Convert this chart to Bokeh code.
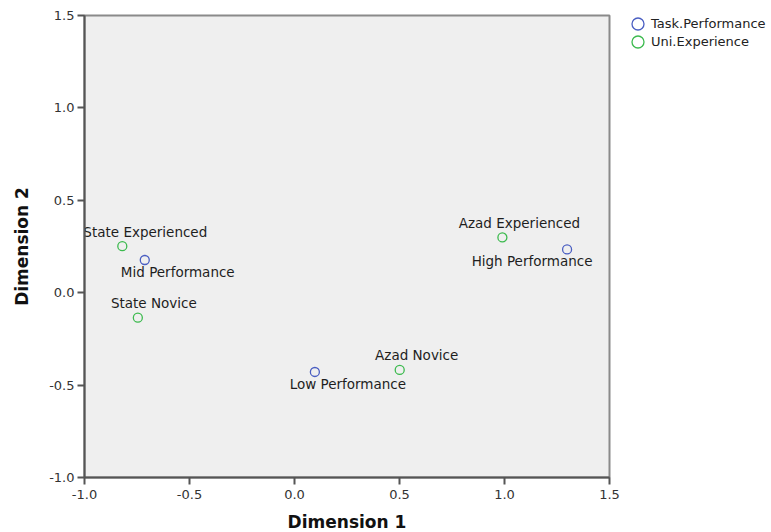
from bokeh.plotting import figure
from bokeh.models import (ColumnDataSource, Legend, LegendItem, FixedTicker,
                          PrintfTickFormatter, Range1d)
from bokeh.embed import file_html
from bokeh.resources import INLINE
from bokeh.core.properties import value

# ---- data ----
series_names = ["Task.Performance", "Uni.Experience"]
task_labels = ["Low Performance", "Mid Performance", "High Performance"]
task_dim1 = [0.097, -0.713, 1.298]
task_dim2 = [-0.429, 0.177, 0.234]
uni_labels = ["State Novice", "State Experienced", "Azad Novice", "Azad Experienced"]
uni_dim1 = [-0.746, -0.820, 0.501, 0.990]
uni_dim2 = [-0.135, 0.252, -0.418, 0.299]
axis_ticks = [-1.0, -0.5, 0.0, 0.5, 1.0, 1.5]

# ---- styles (label offsets in px) ----
task_dx = [33, 33, -35]
task_dy = [12, 12, 12]
uni_dx = [16, 23, 17, 17]
uni_dy = [-15, -14, -15, -14]
BLUE = "#4a5ec2"
GREEN = "#3cba4e"
FONT = "DejaVu Sans"

p = figure(frame_width=525, frame_height=462, title=None,
           x_range=Range1d(-1.0, 1.5), y_range=Range1d(-1.0, 1.5),
           output_backend="svg", toolbar_location=None,
           min_border_left=84, min_border_right=162,
           min_border_top=15, min_border_bottom=55,
           background_fill_color="#efefef", border_fill_color="white",
           outline_line_color="#8a8a8a", outline_line_width=2)

p.xgrid.visible = False
p.ygrid.visible = False

for ax in (p.xaxis[0], p.yaxis[0]):
    ax.ticker = FixedTicker(ticks=axis_ticks)
    ax.formatter = PrintfTickFormatter(format="%.1f")
    ax.axis_line_color = "#555555"
    ax.axis_line_width = 2
    ax.major_tick_line_color = "#555555"
    ax.major_tick_line_width = 2
    ax.major_tick_out = 7
    ax.major_tick_in = 0
    ax.minor_tick_out = 0
    ax.minor_tick_in = 0
    ax.major_label_text_font = FONT
    ax.major_label_text_font_size = "13px"
    ax.major_label_text_color = "#333333"
    ax.axis_label_text_font = FONT
    ax.axis_label_text_font_size = "17px"
    ax.axis_label_text_font_style = "bold"
    ax.axis_label_text_color = "#111111"

p.xaxis.axis_label = "Dimension 1"
p.yaxis.axis_label = "Dimension 2"
p.xaxis.major_label_standoff = 5
p.yaxis.major_label_standoff = 3
p.xaxis.axis_label_standoff = 10
p.yaxis.axis_label_standoff = 14

task_src = ColumnDataSource(dict(x=task_dim1, y=task_dim2, label=task_labels,
                                 dx=task_dx, dy=task_dy))
uni_src = ColumnDataSource(dict(x=uni_dim1, y=uni_dim2, label=uni_labels,
                                dx=uni_dx, dy=uni_dy))

r_task = p.ellipse("x", "y", source=task_src, width=9, height=9,
                   width_units="screen", height_units="screen",
                   fill_color=None, line_color=BLUE, line_width=1.3)
r_uni = p.ellipse("x", "y", source=uni_src, width=9, height=9,
                  width_units="screen", height_units="screen",
                  fill_color=None, line_color=GREEN, line_width=1.3)

for src in (task_src, uni_src):
    p.text("x", "y", text="label", source=src, x_offset="dx", y_offset="dy",
           text_align="center", text_baseline="middle",
           text_font=value(FONT), text_font_size="13.5px", text_color="#1e1e1e")

legend = Legend(items=[LegendItem(label=series_names[0], renderers=[r_task]),
                       LegendItem(label=series_names[1], renderers=[r_uni])],
                location="top_left", orientation="vertical",
                title=" ", title_location="left", title_text_font_size="1px",
                title_standoff=21,
                margin=-1, padding=0, spacing=0,
                glyph_width=15, glyph_height=15, label_height=18,
                label_standoff=6,
                label_text_font=FONT, label_text_font_size="13px",
                label_text_color="#222222",
                border_line_color=None, background_fill_alpha=0)
p.add_layout(legend, "right")

open("out.html", "w").write(file_html(p, INLINE))
